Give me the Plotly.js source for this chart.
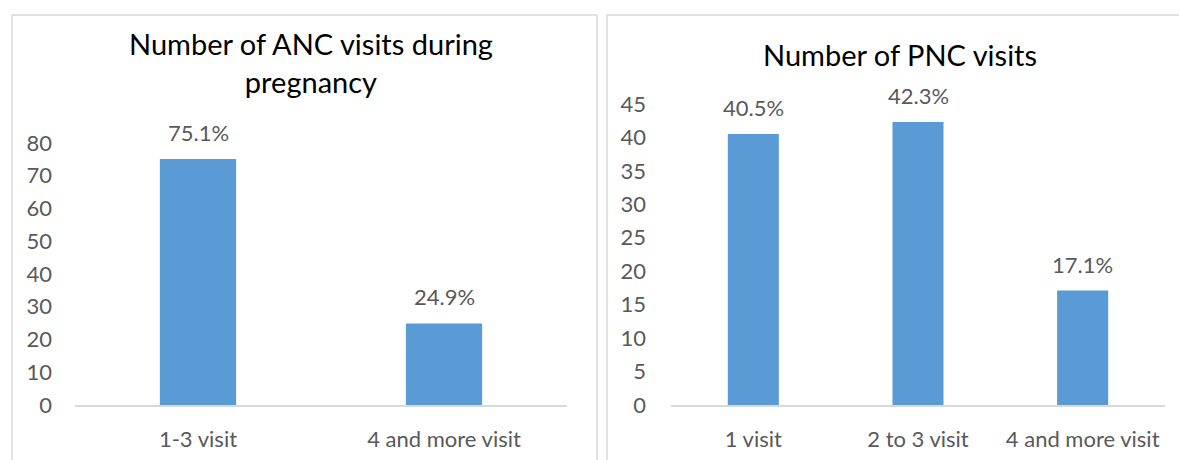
<!DOCTYPE html>
<html><head><meta charset="utf-8">
<script src="https://cdn.plot.ly/plotly-3.0.1.min.js"></script>
<style>html,body{margin:0;padding:0;background:#fff}</style>
</head><body><div id="chart" style="width:1179px;height:460px"></div>
<script>
const ancCategories = ["1-3 visit", "4 and more visit"];
const ancValues = [75.1, 24.9];
const pncCategories = ["1 visit", "2 to 3 visit", "4 and more visit"];
const pncValues = [40.5, 42.3, 17.1];
const ancTitle = "Number of ANC visits during<br>pregnancy";
const pncTitle = "Number of PNC visits";

const FONT = "Lato, 'Open Sans', sans-serif";
const GRAY = "#595959";
const BAR = "#5B9BD5";

const traces = [
  {type:"bar", x:ancCategories, y:ancValues, xaxis:"x", yaxis:"y", marker:{color:BAR}, width:0.31, hoverinfo:"skip"},
  {type:"bar", x:pncCategories, y:pncValues, xaxis:"x2", yaxis:"y2", marker:{color:BAR}, width:0.31, hoverinfo:"skip"}
];

const labelAnn = (cats, vals, xr, yr) => cats.map((c,i)=>({
  x:c, y:vals[i], xref:xr, yref:yr, text:vals[i].toFixed(1)+"%", showarrow:false,
  xanchor:"center", yanchor:"bottom", yshift:11, font:{family:FONT, size:22, color:GRAY}
}));

const axisCommon = {showgrid:false, zeroline:false, ticks:"", tickfont:{family:FONT,size:22,color:GRAY}, fixedrange:true};

const layout = {
  width:1179, height:460, margin:{l:0,r:0,t:0,b:0},
  paper_bgcolor:"#fff", plot_bgcolor:"rgba(0,0,0,0)", showlegend:false,
  xaxis:Object.assign({}, axisCommon, {domain:[75/1179, 567/1179], anchor:"y", showline:true, linecolor:"#d9d9d9", linewidth:1.5, ticklabelstandoff:14}),
  yaxis:Object.assign({}, axisCommon, {domain:[1-405/460, 1-143/460], range:[0,80], dtick:10, anchor:"x", showline:false, ticklabelstandoff:22}),
  xaxis2:Object.assign({}, axisCommon, {domain:[671/1179, 1165/1179], anchor:"y2", showline:true, linecolor:"#d9d9d9", linewidth:1.5, ticklabelstandoff:14}),
  yaxis2:Object.assign({}, axisCommon, {domain:[1-405/460, 1-104/460], range:[0,45], dtick:5, anchor:"x2", showline:false, ticklabelstandoff:24}),
  shapes:[
    {type:"rect", xref:"paper", yref:"paper", x0:12/1179, x1:597/1179, y0:-0.05, y1:1-15/460, line:{color:"#d9d9d9", width:1.5}, fillcolor:"rgba(0,0,0,0)"},
    {type:"rect", xref:"paper", yref:"paper", x0:607/1179, x1:1.05, y0:-0.05, y1:1-15/460, line:{color:"#d9d9d9", width:1.5}, fillcolor:"rgba(0,0,0,0)"}
  ],
  annotations:[
    {xref:"paper", yref:"paper", x:311/1179, y:1-63/460, xanchor:"center", yanchor:"middle", text:ancTitle, showarrow:false, font:{family:FONT,size:29,color:"#000"}, align:"center"},
    {xref:"paper", yref:"paper", x:900/1179, y:1-55/460, xanchor:"center", yanchor:"middle", text:pncTitle, showarrow:false, font:{family:FONT,size:29,color:"#000"}, align:"center"}
  ].concat(labelAnn(ancCategories, ancValues, "x", "y"), labelAnn(pncCategories, pncValues, "x2", "y2"))
};

Plotly.newPlot("chart", traces, layout, {displayModeBar:false, staticPlot:true});
</script></body></html>
